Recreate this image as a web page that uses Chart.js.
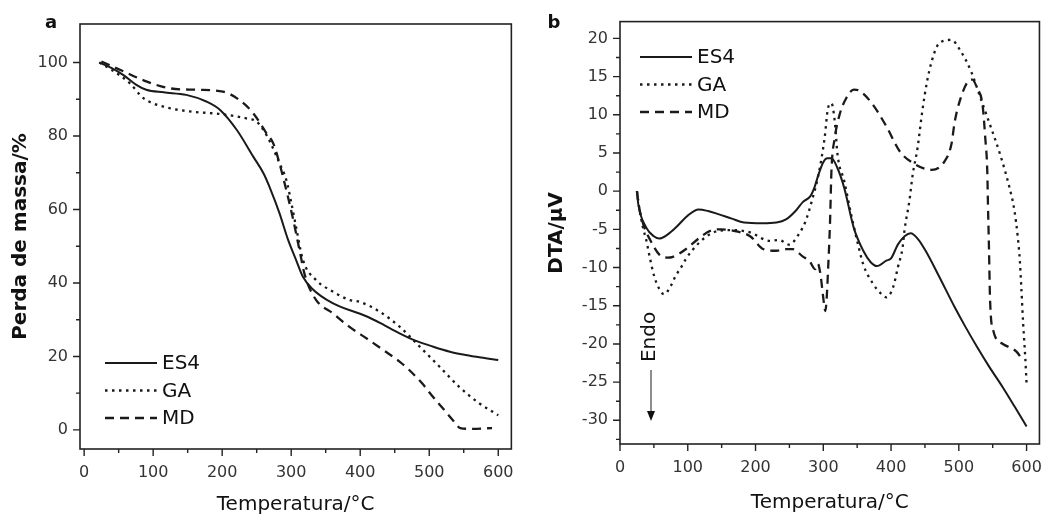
<!DOCTYPE html>
<html>
<head>
  <meta charset="utf-8" />
  <title>TG / DTA</title>
  <script src="https://cdn.jsdelivr.net/npm/chart.js@4"></script>
  <style>
    body { margin: 0; background: #fff; }
    .panel { position: absolute; top: 0; width: 528px; height: 519px; }
    #boxA { left: 0; }
    #boxB { left: 528px; }
  </style>
</head>
<body>
  <div class="panel" id="boxA"><canvas id="tg"></canvas></div>
  <div class="panel" id="boxB"><canvas id="dta"></canvas></div>

  <script>
    // names and tick labels
    const seriesNames = ['ES4', 'GA', 'MD'];
    const tempTicks = [0, 100, 200, 300, 400, 500, 600];
    const massTicks = [0, 20, 40, 60, 80, 100];
    const dtaTicks = [-30, -25, -20, -15, -10, -5, 0, 5, 10, 15, 20];

    // TG curves: [temperature °C, mass %]
    const tgES4 = [[22,100],[40,98.5],[57,96.6],[75,94],[90,92.6],[115,91.9],[148,91.2],[177,89.4],[197,87.1],[221,81.7],[245,74.4],[260,69.8],[270,65.5],[283,59],[295,52],[307,46.3],[317,41.7],[330,38.5],[360,34.5],[408,31],[430,29],[457,26.3],[480,24.3],[505,22.7],[530,21.3],[553,20.4],[575,19.7],[600,19]];
    const tgGA = [[22,100],[40,98],[66,94.4],[86,90.3],[115,88],[153,86.7],[197,86],[235,84.8],[250,83.9],[265,80],[283,72.6],[293,68],[300,62],[307,55.3],[317,46.3],[336,40.8],[360,37.7],[384,35.4],[400,34.8],[428,32.2],[457,28.1],[486,22.7],[515,17.2],[543,11.8],[572,7.3],[600,4]];
    const tgMD = [[25,100.3],[57,97.6],[91,94.8],[124,93],[163,92.6],[201,92.1],[225,89.8],[245,86.2],[264,80.8],[274,78],[283,72.6],[288,69],[302,58],[312,49],[320,42],[336,35.4],[360,31.8],[384,28.1],[410,24.8],[433,21.8],[457,18.6],[471,16.3],[490,12.6],[505,9.1],[520,5.8],[534,2.7],[545,0.5],[560,0.3],[591,0.5]];

    // DTA curves: [temperature °C, µV]
    const dtaES4 = [[25,0],[27,-1.7],[39,-4.8],[50,-5.9],[58,-6.2],[70,-5.7],[82,-4.8],[100,-3.2],[116,-2.4],[130,-2.6],[145,-3.0],[165,-3.6],[183,-4.1],[210,-4.2],[231,-4.1],[245,-3.7],[259,-2.6],[270,-1.4],[281,-0.65],[287,0.5],[293,2.2],[300,3.8],[306,4.3],[312,4.3],[321,3.0],[331,0.4],[345,-4.8],[359,-7.8],[370,-9.3],[379,-9.8],[393,-9.1],[400,-8.8],[410,-7.0],[420,-5.9],[429,-5.5],[440,-6.3],[451,-7.8],[470,-11],[494,-15.2],[510,-17.8],[527,-20.4],[545,-23],[565,-25.7],[583,-28.3],[600,-30.8]];
    const dtaGA = [[25,0],[28,-2],[34,-4.8],[39,-6.5],[44,-8.7],[51,-11.3],[58,-12.8],[65,-13.5],[75,-12.4],[82,-11.1],[90,-10],[97,-8.9],[106,-7.8],[125,-6.1],[145,-5.2],[168,-5.1],[192,-5.4],[221,-6.5],[235,-6.4],[250,-7],[264,-5.6],[274,-3.9],[283,-1.3],[293,2.2],[302,7],[307,10.9],[312,11.5],[317,9.1],[321,4.8],[331,1.3],[341,-3.0],[350,-6.5],[359,-9.6],[374,-12.2],[385,-13.4],[393,-13.9],[403,-12.6],[410,-10],[417,-7.4],[420,-5.0],[427,-1.3],[432,2.2],[439,5.6],[446,10.4],[453,14.3],[460,17],[468,19],[475,19.6],[489,19.8],[503,18.3],[518,15.7],[532,12.2],[546,8.7],[561,4.8],[575,0.4],[582,-2.5],[587,-6],[590,-9],[592,-12.2],[595,-17.4],[598,-21.7],[600,-25.2]];
    const dtaMD = [[25,0],[28,-2],[35,-4.5],[44,-6.3],[58,-8.3],[70,-8.7],[78,-8.6],[97,-7.6],[116,-6.2],[133,-5.2],[149,-5.0],[168,-5.2],[192,-5.9],[212,-7.6],[231,-7.8],[245,-7.6],[255,-7.6],[269,-8.5],[280,-9.2],[288,-10.2],[292,-9.5],[296,-11],[300,-14],[303,-15.7],[305,-14],[307,-10.4],[310,-3.9],[312,2.6],[317,7],[324,10],[334,12.2],[345,13.3],[352,13.2],[370,11.7],[393,8.5],[413,5.2],[436,3.5],[460,2.8],[479,3.9],[489,6.1],[494,9.1],[501,11.7],[513,14.3],[520,14.6],[527,13.5],[535,11.3],[539,7],[542,2.6],[543,-1.7],[544.5,-7.4],[546,-13.9],[551,-18.3],[565,-20],[585,-21],[595,-22.2]];

    Chart.defaults.font.family = "'DejaVu Sans', 'Liberation Sans', sans-serif";
    Chart.defaults.color = '#333';

    const ink = '#1a1a1a';
    const lineStyles = [
      { borderDash: [], borderWidth: 2 },
      { borderDash: [2.5, 4.5], borderWidth: 2.3 },
      { borderDash: [9, 6], borderWidth: 2.3 }
    ];

    // frame, minor/major tick marks, legend, panel letter, "Endo" arrow
    const decor = {
      id: 'decor',
      afterDatasetsDraw(chart, args, o) {
        const { ctx, chartArea: a, scales: { x, y } } = chart;
        ctx.save();
        ctx.strokeStyle = '#222';
        ctx.lineWidth = 1.6;
        ctx.strokeRect(a.left, a.top, a.right - a.left, a.bottom - a.top);

        ctx.lineWidth = 1.4;
        ctx.beginPath();
        for (let i = Math.ceil(x.min / o.xStep); i * o.xStep <= x.max; i++) {
          const px = x.getPixelForValue(i * o.xStep);
          if (px > a.right - 4) continue;
          ctx.moveTo(px, a.bottom);
          ctx.lineTo(px, a.bottom + (i % 2 === 0 ? 7 : 4));
        }
        for (let i = Math.ceil(y.min / o.yStep); i * o.yStep <= y.max; i++) {
          const py = y.getPixelForValue(i * o.yStep);
          if (py < a.top + 4) continue;
          ctx.moveTo(a.left, py);
          ctx.lineTo(a.left - (i % 2 === 0 ? 7 : 4), py);
        }
        ctx.stroke();

        // panel letter
        ctx.fillStyle = '#111';
        ctx.font = "bold 18px 'DejaVu Sans'";
        ctx.textAlign = 'center';
        ctx.textBaseline = 'middle';
        ctx.fillText(o.letter, o.letterX, o.letterY);

        // legend
        const L = o.legend;
        ctx.font = "20px 'DejaVu Sans'";
        ctx.textAlign = 'left';
        chart.data.datasets.forEach((ds, i) => {
          const yy = L.y + i * L.gap;
          ctx.strokeStyle = ink;
          ctx.lineWidth = ds.borderWidth;
          ctx.setLineDash(ds.borderDash);
          ctx.beginPath();
          ctx.moveTo(L.x, yy);
          ctx.lineTo(L.x + L.len, yy);
          ctx.stroke();
          ctx.setLineDash([]);
          ctx.fillText(ds.label, L.x + L.len + 5, yy + 1);
        });

        if (o.endo) {
          const E = o.endo;
          ctx.save();
          ctx.translate(E.x, E.textY);
          ctx.rotate(-Math.PI / 2);
          ctx.textAlign = 'center';
          ctx.fillText('Endo', 0, 0);
          ctx.restore();
          ctx.lineWidth = 1;
          ctx.beginPath();
          ctx.moveTo(E.x + 1, E.top);
          ctx.lineTo(E.x + 1, E.bottom - 8);
          ctx.stroke();
          ctx.beginPath();
          ctx.moveTo(E.x - 3, E.bottom - 10);
          ctx.lineTo(E.x + 5, E.bottom - 10);
          ctx.lineTo(E.x + 1, E.bottom);
          ctx.closePath();
          ctx.fill();
        }
        ctx.restore();
      }
    };

    function toPoints(arr) {
      return arr.map(p => ({ x: p[0], y: p[1] }));
    }

    function makeChart(id, curves, cfg) {
      const datasets = curves.map((c, i) => ({
        label: seriesNames[i],
        data: toPoints(c),
        borderColor: ink,
        borderWidth: lineStyles[i].borderWidth,
        borderDash: lineStyles[i].borderDash,
        pointRadius: 0,
        fill: false,
        cubicInterpolationMode: 'monotone'
      }));

      return new Chart(document.getElementById(id), {
        type: 'line',
        data: { datasets },
        plugins: [decor],
        options: {
          responsive: true,
          maintainAspectRatio: false,
          animation: false,
          events: [],
          layout: { padding: cfg.padding },
          plugins: {
            legend: { display: false },
            tooltip: { enabled: false },
            decor: cfg.decor
          },
          scales: {
            x: {
              type: 'linear',
              min: cfg.xMin,
              max: cfg.xMax,
              afterBuildTicks: s => { s.ticks = tempTicks.map(v => ({ value: v })); },
              afterFit: s => { s.height = cfg.xAxisHeight; },
              grid: { display: false, drawTicks: false },
              border: { display: false },
              ticks: { font: { size: 16 }, color: '#333', padding: 14, maxRotation: 0, autoSkip: false },
              title: {
                display: true,
                text: 'Temperatura/°C',
                color: '#111',
                font: { size: 20 },
                padding: { top: 0, bottom: cfg.xTitlePad }
              }
            },
            y: {
              type: 'linear',
              min: cfg.yMin,
              max: cfg.yMax,
              afterBuildTicks: s => { s.ticks = cfg.yTicks.map(v => ({ value: v })); },
              afterFit: s => { s.width = cfg.yAxisWidth; },
              grid: { display: false, drawTicks: false },
              border: { display: false },
              ticks: { font: { size: 16 }, color: '#333', padding: 12, autoSkip: false },
              title: {
                display: true,
                text: cfg.yTitle,
                color: '#111',
                font: { size: 20, weight: 'bold' },
                padding: { top: cfg.yTitlePad, bottom: 0 }
              }
            }
          }
        }
      });
    }

    makeChart('tg', [tgES4, tgGA, tgMD], {
      xMin: -6, xMax: 619, yMin: -5.2, yMax: 110.5,
      yTicks: massTicks,
      yTitle: 'Perda de massa/%',
      padding: { top: 24, right: 16, left: 0, bottom: 0 },
      xAxisHeight: 70, yAxisWidth: 80,
      xTitlePad: 2, yTitlePad: 9,
      decor: {
        xStep: 50, yStep: 10,
        letter: 'a', letterX: 51, letterY: 23,
        legend: { x: 105, y: 363, gap: 27.5, len: 52 }
      }
    });

    makeChart('dta', [dtaES4, dtaGA, dtaMD], {
      xMin: 0, xMax: 619, yMin: -33.1, yMax: 22.2,
      yTicks: dtaTicks,
      yTitle: 'DTA/\u03bcV',
      padding: { top: 20, right: 5, left: 0, bottom: 0 },
      xAxisHeight: 75, yAxisWidth: 92,
      xTitlePad: 4, yTitlePad: 17,
      decor: {
        xStep: 50, yStep: 2.5,
        letter: 'b', letterX: 26, letterY: 23,
        legend: { x: 112, y: 57, gap: 27.5, len: 52 },
        endo: { x: 122, textY: 337, top: 370, bottom: 421 }
      }
    });
  </script>
</body>
</html>
